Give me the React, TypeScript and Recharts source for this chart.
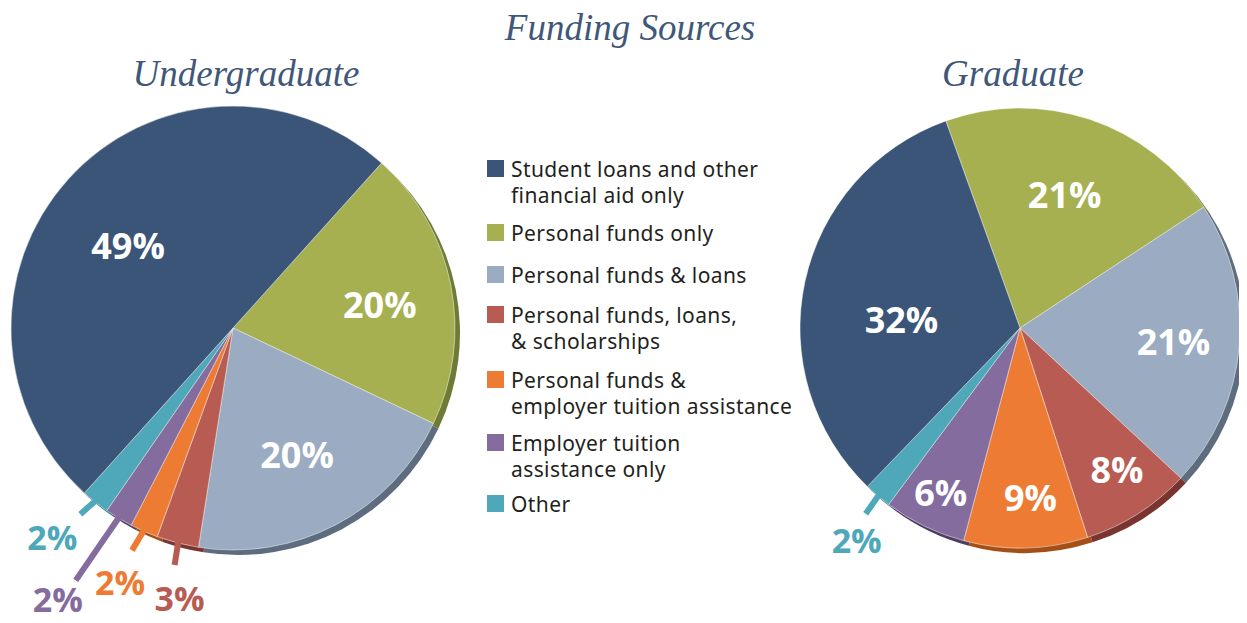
import React from 'react';
import { PieChart, Pie, Cell } from 'recharts';

// ---- data ----
const categoryLines: string[][] = [
  ['Student loans and other', 'financial aid only'],
  ['Personal funds only'],
  ['Personal funds & loans'],
  ['Personal funds, loans,', '& scholarships'],
  ['Personal funds &', 'employer tuition assistance'],
  ['Employer tuition', 'assistance only'],
  ['Other'],
];
const undergradValues = [49, 20, 20, 3, 2, 2, 2];
const gradValues = [32, 21, 21, 8, 9, 6, 2];
// slice drawing order (clockwise from the start angle)
const pieOrder = [1, 2, 3, 4, 5, 6, 0];

// ---- styles ----
const colors = ['#3b5578', '#a6b051', '#9aabc2', '#b85c53', '#ee7b33', '#856c9e', '#4ea8b9'];
const shadowColors = ['#243a58', '#6f7a34', '#5e6c7f', '#7a3430', '#a44f17', '#4f3f63', '#2e6f7c'];
const titleColor = '#3f5779';
const labelFont = '"Open Sans", "Noto Sans", sans-serif';

type LabelCfg = { r?: number; da?: number; lead?: [number, number]; off?: [number, number] };
// configs in pie order: green, light blue, red, orange, purple, teal, dark blue
const undergradLabelCfg: LabelCfg[] = [
  { r: 0.67, da: -2 },
  { r: 0.64, da: -1 },
  { lead: [-3, 22], off: [5, 33] },
  { lead: [-12, 19], off: [-12, 32] },
  { lead: [-43, 62], off: [-18, 19] },
  { lead: [-15, 12], off: [-28, 23] },
  { r: 0.6, da: 4 },
];
const gradLabelCfg: LabelCfg[] = [
  { r: 0.64, da: 0 },
  { r: 0.7, da: 0 },
  { r: 0.78, da: 2 },
  { r: 0.77, da: 2 },
  { r: 0.83, da: 0 },
  { lead: [-12, 18], off: [-9, 26] },
  { r: 0.54, da: 8 },
];

const RAD = Math.PI / 180;

const buildData = (values: number[]) =>
  pieOrder.map((ci) => ({ name: categoryLines[ci].join(' '), value: values[ci], ci }));

const undergradData = buildData(undergradValues);
const gradData = buildData(gradValues);

const makeLabel = (cfg: LabelCfg[]) => (props: any) => {
  const { cx, cy, midAngle, outerRadius, index, value } = props;
  const c = cfg[index];
  const color = colors[pieOrder[index]];
  if (c.lead) {
    const a = -midAngle * RAD;
    const sx = cx + (outerRadius - 5) * Math.cos(a);
    const sy = cy + (outerRadius - 5) * Math.sin(a);
    const ex = cx + outerRadius * Math.cos(a) + c.lead[0];
    const ey = cy + outerRadius * Math.sin(a) + c.lead[1];
    const tx = ex + (c.off ? c.off[0] : 0);
    const ty = ey + (c.off ? c.off[1] : 0);
    return (
      <g>
        <line x1={sx} y1={sy} x2={ex} y2={ey} stroke={color} strokeWidth={6} />
        <text
          x={tx}
          y={ty}
          fill={color}
          textAnchor="middle"
          dominantBaseline="central"
          fontFamily={labelFont}
          fontWeight={700}
          fontSize={34}
        >
          {`${value}%`}
        </text>
      </g>
    );
  }
  const a = -(midAngle + (c.da || 0)) * RAD;
  const r = outerRadius * (c.r || 0.6);
  return (
    <text
      x={cx + r * Math.cos(a)}
      y={cy + r * Math.sin(a)}
      fill="#ffffff"
      textAnchor="middle"
      dominantBaseline="central"
      fontFamily={labelFont}
      fontWeight={700}
      fontSize={36}
    >
      {`${value}%`}
    </text>
  );
};

const U = { cx: 233, cy: 328, r: 222, start: 48 };
const G = { cx: 1020, cy: 328, r: 220, start: 109.7 };
const SHADOW_DX = 5;
const SHADOW_DY = 5;

const legendTops = [160, 224, 266, 306, 371, 434, 495];

export default function App() {
  return (
    <div style={{ position: 'relative', width: 1247, height: 623, margin: -8, background: '#fff' }}>
      <PieChart
        width={1247}
        height={623}
        margin={{ top: 0, right: 0, bottom: 0, left: 0 }}
        style={{ overflow: 'visible' }}
      >
        <Pie
          data={undergradData}
          dataKey="value"
          cx={U.cx + SHADOW_DX}
          cy={U.cy + SHADOW_DY}
          outerRadius={U.r}
          startAngle={U.start}
          endAngle={U.start - 360}
          stroke="none"
          isAnimationActive={false}
        >
          {undergradData.map((d, i) => (
            <Cell key={i} fill={shadowColors[d.ci]} />
          ))}
        </Pie>
        <Pie
          data={gradData}
          dataKey="value"
          cx={G.cx + SHADOW_DX}
          cy={G.cy + SHADOW_DY}
          outerRadius={G.r}
          startAngle={G.start}
          endAngle={G.start - 360}
          stroke="none"
          isAnimationActive={false}
        >
          {gradData.map((d, i) => (
            <Cell key={i} fill={shadowColors[d.ci]} />
          ))}
        </Pie>
        <Pie
          data={undergradData}
          dataKey="value"
          cx={U.cx}
          cy={U.cy}
          outerRadius={U.r}
          startAngle={U.start}
          endAngle={U.start - 360}
          stroke="rgba(255,255,255,0.6)"
          strokeWidth={0.8}
          label={makeLabel(undergradLabelCfg)}
          labelLine={false}
          isAnimationActive={false}
        >
          {undergradData.map((d, i) => (
            <Cell key={i} fill={colors[d.ci]} />
          ))}
        </Pie>
        <Pie
          data={gradData}
          dataKey="value"
          cx={G.cx}
          cy={G.cy}
          outerRadius={G.r}
          startAngle={G.start}
          endAngle={G.start - 360}
          stroke="rgba(255,255,255,0.6)"
          strokeWidth={0.8}
          label={makeLabel(gradLabelCfg)}
          labelLine={false}
          isAnimationActive={false}
        >
          {gradData.map((d, i) => (
            <Cell key={i} fill={colors[d.ci]} />
          ))}
        </Pie>
      </PieChart>

      {/* titles */}
      <div
        style={{
          position: 'absolute',
          left: 0,
          width: 1260,
          top: 6,
          textAlign: 'center',
          fontFamily: '"Liberation Serif", serif',
          fontStyle: 'italic',
          fontSize: 37,
          color: titleColor,
          lineHeight: '44px',
          whiteSpace: 'nowrap',
        }}
      >
        Funding Sources
      </div>
      <div
        style={{
          position: 'absolute',
          left: 46,
          width: 400,
          top: 52,
          textAlign: 'center',
          fontFamily: '"Liberation Serif", serif',
          fontStyle: 'italic',
          fontSize: 37,
          color: titleColor,
          lineHeight: '44px',
          whiteSpace: 'nowrap',
        }}
      >
        Undergraduate
      </div>
      <div
        style={{
          position: 'absolute',
          left: 813,
          width: 400,
          top: 52,
          textAlign: 'center',
          fontFamily: '"Liberation Serif", serif',
          fontStyle: 'italic',
          fontSize: 37,
          color: titleColor,
          lineHeight: '44px',
          whiteSpace: 'nowrap',
        }}
      >
        Graduate
      </div>

      {/* legend */}
      {categoryLines.map((lines, i) => (
        <div key={i} style={{ position: 'absolute', left: 487, top: legendTops[i] }}>
          <div style={{ position: 'absolute', left: 0, top: 0, width: 17, height: 17, background: colors[i] }} />
          <div
            style={{
              position: 'absolute',
              left: 24,
              top: -4,
              fontFamily: '"Noto Sans", sans-serif',
              fontSize: 21,
              letterSpacing: 0.4,
              lineHeight: '26px',
              color: '#231f20',
              whiteSpace: 'nowrap',
            }}
          >
            {lines.map((l, j) => (
              <div key={j}>{l}</div>
            ))}
          </div>
        </div>
      ))}
    </div>
  );
}
